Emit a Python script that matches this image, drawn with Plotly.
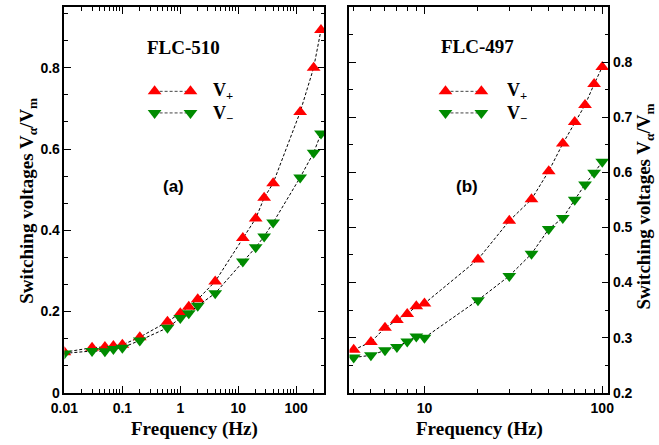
import plotly.graph_objects as go

W, H = 659, 445

# ---------------- data ----------------
# Panel (a): FLC-510
freq_a = [0.01, 0.03, 0.05, 0.07, 0.1, 0.2, 0.6, 1.0, 1.4, 2.0, 4.0, 12, 20, 28, 40, 117, 200, 268]
vplus_a = [0.100, 0.111, 0.113, 0.115, 0.118, 0.137, 0.175, 0.196, 0.212, 0.230, 0.274, 0.381, 0.429, 0.480, 0.516, 0.691, 0.800, 0.893]
freq_a_m = [0.01, 0.03, 0.05, 0.07, 0.1, 0.2, 0.6, 1.0, 1.4, 2.0, 4.0, 12, 20, 28, 40, 117, 200, 268]
vminus_a = [0.097, 0.103, 0.102, 0.108, 0.111, 0.129, 0.160, 0.184, 0.196, 0.214, 0.245, 0.323, 0.358, 0.385, 0.419, 0.530, 0.591, 0.638]

# Panel (b): FLC-497
freq_b = [4, 5, 6, 7, 8, 9, 10, 20, 30, 40, 50, 60, 70, 80, 90, 100]
vplus_b = [0.278, 0.292, 0.318, 0.332, 0.343, 0.357, 0.362, 0.442, 0.512, 0.551, 0.602, 0.652, 0.691, 0.722, 0.760, 0.791]
vminus_b = [0.264, 0.268, 0.277, 0.283, 0.293, 0.302, 0.300, 0.368, 0.412, 0.452, 0.497, 0.517, 0.550, 0.578, 0.599, 0.619]

xticks_a = [0.01, 0.1, 1, 10, 100]
xticklabels_a = ["0.01", "0.1", "1", "10", "100"]
yticks_a = [0, 0.2, 0.4, 0.6, 0.8]
yticklabels_a = ["0", "0.2", "0.4", "0.6", "0.8"]
xticks_b = [10, 100]
xticklabels_b = ["10", "100"]
yticks_b = [0.2, 0.3, 0.4, 0.5, 0.6, 0.7, 0.8, 0.9]
yticklabels_b = ["0.2", "0.3", "0.4", "0.5", "0.6", "0.7", "0.8", "0.9"]

RED = "#ff0000"
GREEN = "#008b00"
SERIF = "Liberation Serif"
SANS = "Liberation Sans"

# ---------------- layout geometry (pixels) ----------------
def px(x):
    return x / W

def py(y):
    return 1 - y / H

left_dom = [px(52), px(320)]
right_dom = [px(346), px(613)]
ydom = [py(400), py(7)]

fig = go.Figure()

line_style = dict(color="black", width=1, dash="3px,2px")
msize = 12

def add_series(x, y, sym, col, xa, ya):
    fig.add_trace(go.Scatter(x=x, y=y, mode="lines+markers", xaxis=xa, yaxis=ya,
                             line=line_style,
                             marker=dict(symbol=sym, size=msize, color=col, line=dict(width=0)),
                             showlegend=False, hoverinfo="x+y"))

add_series(freq_a, vplus_a, "triangle-up", RED, "x", "y")
add_series(freq_a_m, vminus_a, "triangle-down", GREEN, "x", "y")
add_series(freq_b, vplus_b, "triangle-up", RED, "x2", "y2")
add_series(freq_b, vminus_b, "triangle-down", GREEN, "x2", "y2")

# ---------------- hand-drawn legend on a pixel overlay axis ----------------
legend_items = [
    # (x_left_marker, x_right_marker, y, symbol, color)
    (145, 182, 93, "triangle-up", RED),
    (145, 182, 115, "triangle-down", GREEN),
    (445, 482, 93, "triangle-up", RED),
    (445, 482, 115, "triangle-down", GREEN),
]
for x0, x1, yy, sym, col in legend_items:
    fig.add_trace(go.Scatter(x=[x0, x1], y=[yy, yy], mode="lines+markers", xaxis="x3", yaxis="y3",
                             line=dict(color="#444444", width=1, dash="3px,2px"),
                             marker=dict(symbol=sym, size=msize, color=col, line=dict(width=0)),
                             showlegend=False, hoverinfo="skip"))

tickfont = dict(family=SANS, size=14, color="black", weight="bold")
axis_common = dict(showline=True, linecolor="black", linewidth=1.5, mirror="allticks",
                   ticks="inside", ticklen=7, tickwidth=1.2, tickcolor="black",
                   showgrid=False, zeroline=False, tickfont=tickfont)

minor_a = [m * 10 ** e for e in range(-2, 3) for m in range(2, 10)]
minor_b = [m * 10 ** e for e in range(0, 2) for m in range(2, 10)]

fig.update_layout(
    width=W, height=H,
    margin=dict(l=0, r=0, t=0, b=0),
    paper_bgcolor="white", plot_bgcolor="rgba(0,0,0,0)",
    showlegend=False,
    xaxis=dict(domain=left_dom, anchor="y", type="log", range=[-2, 2.485],
               tickvals=xticks_a, ticktext=xticklabels_a, ticklabelstandoff=2,
               minor=dict(tickvals=minor_a, ticks="inside", ticklen=4, tickcolor="black", tickwidth=1),
               **axis_common),
    yaxis=dict(domain=ydom, anchor="x", range=[0, 0.95],
               tickvals=yticks_a, ticktext=yticklabels_a,
               minor=dict(dtick=0.2 / 3, tick0=0, ticks="inside", ticklen=4, tickcolor="black", tickwidth=1),
               **axis_common),
    xaxis2=dict(domain=right_dom, anchor="y2", type="log", range=[0.5785, 2.0345],
                tickvals=xticks_b, ticktext=xticklabels_b, ticklabelstandoff=2,
                minor=dict(tickvals=minor_b, ticks="inside", ticklen=4, tickcolor="black", tickwidth=1),
                **axis_common),
    yaxis2=dict(domain=ydom, anchor="x2", side="right", range=[0.2, 0.9],
                tickvals=yticks_b, ticktext=yticklabels_b,
                minor=dict(dtick=0.05, tick0=0.2, ticks="inside", ticklen=4, tickcolor="black", tickwidth=1),
                **axis_common),
    xaxis3=dict(domain=[0, 1], anchor="y3", range=[0, W], visible=False, fixedrange=True),
    yaxis3=dict(domain=[0, 1], anchor="x3", range=[H, 0], visible=False, fixedrange=True),
)

# ---------------- text ----------------
def ann(x, y, text, size, family, xanchor="center", angle=0, weight="bold"):
    fig.add_annotation(x=px(x), y=py(y), xref="paper", yref="paper", text=text,
                       showarrow=False, xanchor=xanchor, yanchor="middle", textangle=angle,
                       font=dict(family=family, size=size, color="black", weight=weight))

ann(175, 48, "FLC-510", 19, SERIF)
ann(478, 47, "FLC-497", 19, SERIF)
ann(203, 93, "V<sub>+</sub>", 18, SERIF, xanchor="left")
ann(203, 117, "V<sub>−</sub>", 18, SERIF, xanchor="left")
ann(506, 93, "V<sub>+</sub>", 18, SERIF, xanchor="left")
ann(506, 117, "V<sub>−</sub>", 18, SERIF, xanchor="left")
ann(165, 190, "(a)", 17, SANS)
ann(467, 190, "(b)", 17, SANS)
ann(186, 437, "Frequency (Hz)", 19, SERIF)
ann(480, 437, "Frequency (Hz)", 19, SERIF)
ann(15, 205, "Switching voltages V<sub>α</sub>/V<sub>m</sub>", 19, SERIF, angle=-90)
ann(651, 210, "Switching voltages V<sub>α</sub>/V<sub>m</sub>", 19, SERIF, angle=-90)

fig.write_html("out.html")
